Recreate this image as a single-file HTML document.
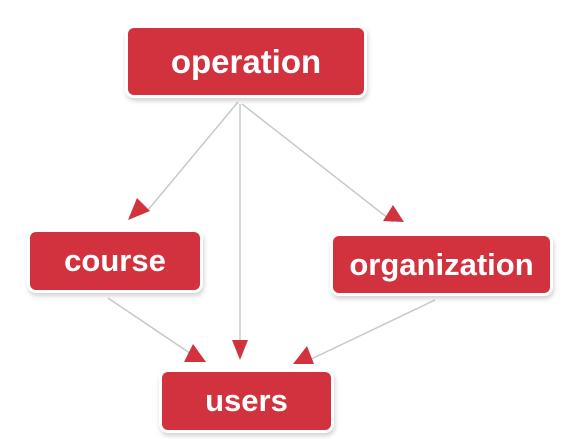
<!DOCTYPE html>
<html><head><style>
body{margin:0;width:564px;height:439px;background:#fff;overflow:hidden;position:relative;font-family:"Liberation Sans",sans-serif}
.b{position:absolute;background:#d2323e;border-radius:6px;color:#fff;font-weight:bold;display:flex;align-items:center;justify-content:center;box-shadow:0 0 0 3px #fff,1px 3px 5px 3px rgba(0,0,0,.18)}
svg{position:absolute;left:0;top:0}
</style></head><body>
<svg width="564" height="439">
<g stroke="#c8c8c8" stroke-width="1.5" fill="none">
<line x1="238" y1="102" x2="148" y2="210"/>
<line x1="242" y1="104" x2="393" y2="222"/>
<line x1="240" y1="104" x2="240" y2="345"/>
<line x1="108" y1="298" x2="200" y2="360"/>
<line x1="435" y1="300" x2="305" y2="362"/>
</g>
<g fill="#d2323e">
<polygon points="137,198 128,220 150,211"/>
<polygon points="393,205 383,221 404,222"/>
<polygon points="232,340 248,340 240,360"/>
<polygon points="193,344 184,362 206,362"/>
<polygon points="307,346 293,364 314,364"/>
</g>
</svg>
<div class="b" style="left:128px;top:28px;width:236px;height:67px;font-size:33px">operation</div>
<div class="b" style="left:30px;top:232px;width:170px;height:58px;font-size:31px">course</div>
<div class="b" style="left:333px;top:236px;width:217px;height:57px;font-size:31px">organization</div>
<div class="b" style="left:162px;top:372px;width:169px;height:58px;font-size:31px">users</div>
</body></html>
